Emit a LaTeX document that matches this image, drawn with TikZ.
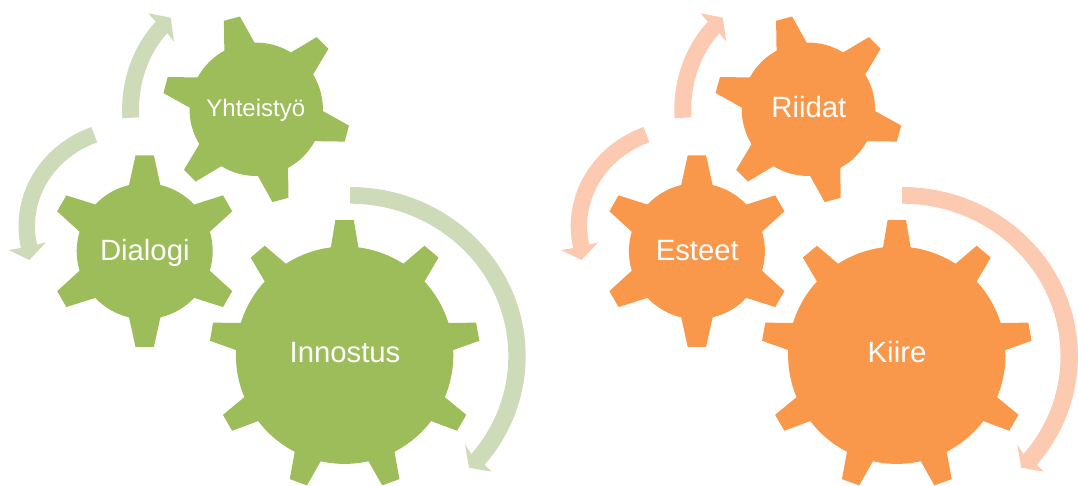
\documentclass[tikz,border=0pt]{standalone}
\usepackage{fontspec}
\setmainfont{Liberation Sans}
\definecolor{gearGreen}{HTML}{9DBC5A}
\definecolor{sweepGreen}{HTML}{CEDBB8}
\definecolor{gearOrange}{HTML}{F9984A}
\definecolor{sweepOrange}{HTML}{FCCAB0}

% style, cx, cy, teeth, rotation, body radius, tip radius, base half width, tip half width
\newcommand{\gearshape}[9]{
  \pgfmathsetmacro{\gearDb}{asin(#8/#6)}
  \pgfmathsetmacro{\gearDt}{asin(#9/#7)}
  \pgfmathsetmacro{\gearStep}{360/#4}
  \pgfmathtruncatemacro{\gearLast}{#4-1}
  \fill[#1] ({#2+#6*sin(#5-\gearDb)},{#3-#6*cos(#5-\gearDb)})
    \foreach \i [evaluate=\i as \a using #5+\i*\gearStep] in {0,...,\gearLast} {
      -- ({#2+#7*sin(\a-\gearDt)},{#3-#7*cos(\a-\gearDt)})
      -- ({#2+#7*sin(\a+\gearDt)},{#3-#7*cos(\a+\gearDt)})
      -- ({#2+#6*sin(\a+\gearDb)},{#3-#6*cos(\a+\gearDb)})
      arc[start angle={\a+\gearDb-90}, end angle={\a+\gearStep-\gearDb-90}, radius=#6]
    } -- cycle;
}

% style, centre, outer radii, inner radii, start and end angle; the head comes from \sweephead
\newcommand{\sweepshape}[9]{
  \fill[#1] ({#2+#4*cos(#8)},{#3+#5*sin(#8)})
    arc[start angle=#8, end angle=#9, x radius=#4, y radius=#5]
    \sweephead
    -- ({#2+#6*cos(#9)},{#3+#7*sin(#9)})
    arc[start angle=#9, end angle=#8, x radius=#6, y radius=#7] -- cycle;
}

% one whole set of shapes
\newcommand{\panelshapes}[2]{
  \gearshape{#1}{344.6}{355.2}{9}{0}{108.7}{135.5}{13.8}{9.2}
  \gearshape{#1}{144.7}{251.2}{6}{0}{68}{96.2}{15.7}{9.2}
  \gearshape{#1}{256.2}{109.3}{6}{-15}{66.7}{94.2}{15.6}{8.3}
  \def\sweephead{-- (491.7,471.7) -- (469,467.7) -- (465,444.3)}
  \sweepshape{#2}{350}{356.1}{175.7}{169.1}{158.3}{152.4}{-90}{40}
  \def\sweephead{-- (8.7,250) -- (29.3,260) -- (46,242.3)}
  \sweepshape{#2}{132}{226}{113.5}{106}{97}{89.6}{249}{168}
  \def\sweephead{-- (148.3,13.3) -- (170.7,17.7) -- (174,41.7)}
  \sweepshape{#2}{227.8}{109.9}{105.7}{120.6}{88.8}{105}{176}{227}
}

\begin{document}
\begin{tikzpicture}[
  x=1pt, y=-1pt,
  greengear/.style={fill=gearGreen},
  orangegear/.style={fill=gearOrange},
  greensweep/.style={fill=sweepGreen},
  orangesweep/.style={fill=sweepOrange},
  biglabel/.style={text=white, anchor=base, inner sep=0pt, font=\fontsize{29.3}{32}\selectfont},
  smalllabel/.style={text=white, anchor=base, inner sep=0pt, font=\fontsize{24}{28}\selectfont}
]
\useasboundingbox (0,0) rectangle (1078,485);

\panelshapes{greengear}{greensweep}
\begin{scope}[xshift=552.2pt]
  \panelshapes{orangegear}{orangesweep}
\end{scope}

\node[biglabel] (innostus) at (345,362.5) {Innostus};
\node[biglabel] (dialogi) at (144.8,260) {Dialogi};
\node[smalllabel] (yhteistyo) at (255.8,116.7) {Yhteistyö};

\node[biglabel] (kiire) at (897,362) {Kiire};
\node[biglabel] (esteet) at (697.3,260) {Esteet};
\node[biglabel] (riidat) at (808.8,117.7) {Riidat};
\end{tikzpicture}
\end{document}
